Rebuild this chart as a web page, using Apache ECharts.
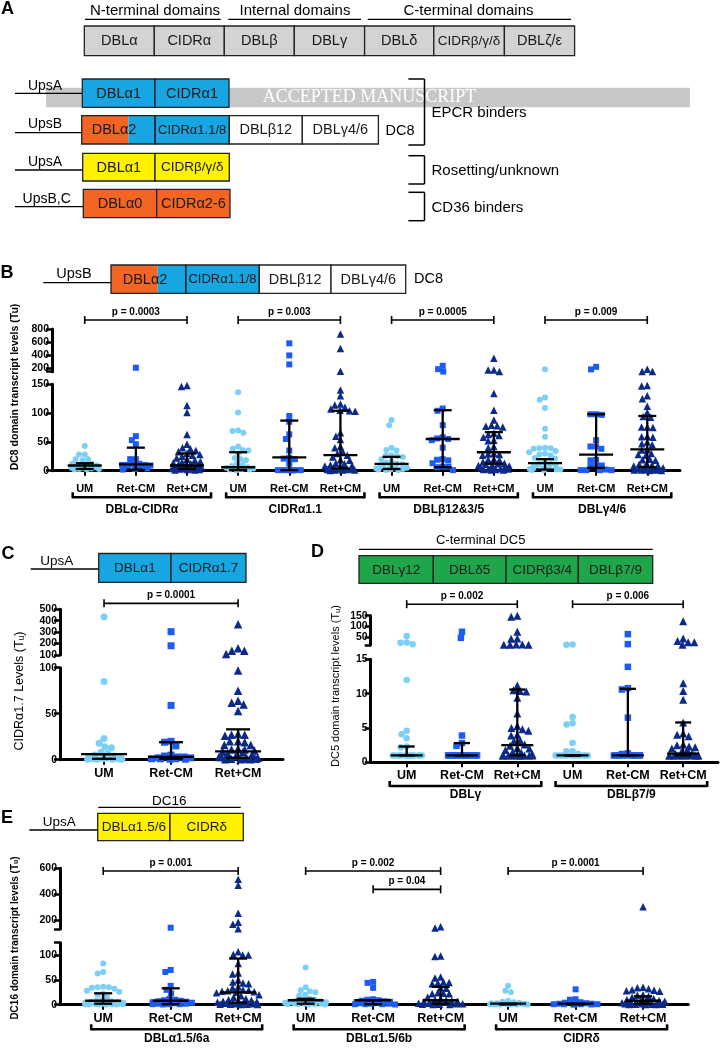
<!DOCTYPE html>
<html><head><meta charset="utf-8">
<script src="https://cdn.jsdelivr.net/npm/echarts@6/dist/echarts.min.js"></script>
<style>html,body{margin:0;padding:0;background:#fff}#c{width:720px;height:1050px}</style>
</head><body><div id="c"></div>
<script>
// ================= DATA =================
const treatments = ['UM', 'Ret-CM', 'Ret+CM'];

// Panel B (DC8) – values in Tu
const bGroups = ['DBLα-CIDRα', 'CIDRα1.1', 'DBLβ12&3/5', 'DBLγ4/6'];
const bUM_DBLa = [43, 28, 28, 20, 20, 18, 12, 12, 10, 10, 9, 8, 7, 6, 5, 5, 4, 3, 3, 2, 2];
const bRetNeg_DBLa = [210, 60, 53, 46, 20, 20, 12, 11, 10, 10, 10, 9, 8, 6, 4, 3, 2];
const bRetPos_DBLa = [148, 146, 113, 101, 63, 46, 40, 38, 35, 33, 30, 28, 27, 25, 22, 20, 18, 16, 15, 14, 12, 11, 10, 10, 9, 8, 8, 7, 6, 5, 5, 4, 4, 3, 3, 2, 2, 1, 1];
const bUM_CIDRa11 = [136, 101, 70, 69, 66, 42, 38, 36, 35, 30, 22, 20, 18, 12, 10, 8, 6, 5, 4, 3, 2, 2, 1, 1];
const bRetNeg_CIDRa11 = [582, 398, 261, 95, 85, 63, 55, 35, 22, 21, 20, 12, 1, 1, 1, 1, 1, 0.5];
const bRetPos_CIDRa11 = [724, 505, 155, 140, 130, 116, 114, 110, 107, 105, 104, 103, 66, 60, 54, 42, 40, 33, 30, 27, 24, 19, 18, 13, 12, 10, 9, 8, 6, 5, 4, 3, 3, 2, 2, 1, 1, 1, 0.5];
const bUM_DBLb12 = [88, 79, 40, 36, 35, 27, 26, 25, 24, 20, 16, 14, 12, 11, 10, 9, 8, 6, 5, 4, 3, 2, 2, 1, 1];
const bRetNeg_DBLb12 = [240, 189, 152, 108, 104, 79, 58, 56, 55, 53, 40, 20, 19, 18, 13, 7, 7, 6, 1];
const bRetPos_DBLb12 = [353, 174, 174, 152, 134, 105, 88, 79, 78, 77, 76, 65, 63, 61, 58, 53, 52, 42, 40, 30, 29, 28, 27, 20, 19, 18, 15, 13, 12, 11, 10, 9, 8, 7, 6, 5, 4, 3, 3, 2, 2, 1, 1];
const bUM_DBLg46 = [189, 127, 123, 109, 73, 59, 40, 39, 39, 38, 34, 32, 30, 28, 27, 22, 21, 14, 12, 12, 10, 8, 6, 5, 4, 3, 2, 2, 1, 1];
const bRetNeg_DBLg46 = [224, 185, 98, 98, 97, 53, 42, 42, 38, 19, 18, 9, 9, 8, 2, 1, 1, 1, 1];
const bRetPos_DBLg46 = [189, 152, 152, 148, 147, 130, 125, 112, 101, 94, 93, 76, 76, 75, 60, 59, 58, 50, 47, 45, 37, 36, 30, 28, 27, 20, 19, 18, 12, 11, 10, 9, 8, 6, 5, 4, 3, 2, 2, 1, 1, 1, 0.5, 0.5];
const bMedian = [9, 11, 9, 6, 23, 27, 12, 55, 32, 13, 28, 37];
const bQ1 = [3, 2, 3, 1, 1, 4, 3, 6, 12, 2, 5, 6];
const bQ3 = [13, 40, 30, 32, 87, 104, 24, 105, 67, 20, 98, 95];
const bPvals = ['p = 0.0003', 'p = 0.003', 'p = 0.0005', 'p = 0.009'];
const bPairs = [[0, 2], [3, 5], [6, 8], [9, 11]];

// Panel C (CIDRα1.7)
const cUM = [435, 85, 23, 18, 14, 13, 8, 7, 5, 4, 3, 2, 2, 1, 1, 1, 0.5, 0.5, 0.5, 0.5];
const cRetNeg = [304, 181, 59, 20, 19, 15, 5, 4, 3, 3, 2, 2, 1, 1, 1, 0.5, 0.5];
const cRetPos = [369, 159, 138, 138, 109, 97, 75, 64, 62, 60, 53, 28, 27, 27, 26, 20, 20, 19, 16, 16, 12, 11, 11, 10, 9, 8, 7, 6, 5, 4, 3, 3, 2, 2, 1, 1, 1, 0.5, 0.5, 0.5];
const cMedian = [6, 3, 9];
const cQ1 = [1, 1, 2];
const cQ3 = [6, 19, 33];
const cPvals = ['p = 0.0001'];
const cPairs = [[0, 2]];

// Panel D (DC5)
const dGroups = ['DBLγ', 'DBLβ7/9'];
const dUM_DBLg = [57, 27, 25, 19, 12, 4.6, 4.1, 3.5, 2.3, 2.2, 1, 1, 1, 1, 1, 1, 1, 1, 1, 1, 1, 1, 1, 1];
const dRetNeg_DBLg = [76, 48, 3.9, 2.8, 2.4, 1, 1, 1, 1, 1, 1, 1, 1, 1, 1, 1, 1, 1];
const dRetPos_DBLg = [150, 145, 76, 45, 44, 17, 17, 16, 16, 16, 11.2, 10.5, 10.4, 10.3, 9.4, 7.1, 5.3, 5.0, 4.8, 4.6, 4.0, 3.9, 3.2, 3.1, 2.6, 2.4, 2.1, 2.0, 1.8, 1.5, 1.4, 1.2, 1, 1, 1, 1, 1, 1, 1, 1, 1, 1];
const dUM_DBLb79 = [17, 16, 6.6, 5.7, 5.5, 2.8, 1.6, 1.6, 1.2, 1, 1, 1, 1, 1, 1, 1, 1, 1, 1, 1, 1];
const dRetNeg_DBLb79 = [65, 19, 13.9, 10.8, 10.6, 6.5, 1.3, 1.2, 1, 1, 1, 1, 1, 1, 1, 1, 1, 1];
const dRetPos_DBLb79 = [125, 45, 33, 28, 28, 16, 11.5, 10.4, 9.1, 5.8, 4.2, 4.0, 3.8, 2.6, 2.5, 2.3, 2.2, 2.0, 1.8, 1.5, 1.3, 1.2, 1, 1, 1, 1, 1, 1, 1, 1, 1, 1];
const dMedian = [1, 1, 2.5, 1, 1, 1.25];
const dQ1 = [1, 1, 1, 1, 1, 1];
const dQ3 = [2.3, 2.8, 10.6, 1, 10.7, 5.8];
const dPvals = ['p = 0.002', 'p = 0.006'];
const dPairs = [[0, 2], [3, 5]];

// Panel E (DC16)
const eGroups = ['DBLα1.5/6a', 'DBLα1.5/6b', 'CIDRδ'];
const eUM_a = [83, 66, 63, 36, 35, 35, 34, 32, 28, 26, 22, 20, 14, 10, 8, 7, 6, 5, 4, 4, 3, 3, 2, 2, 1, 1, 1, 1, 0.5, 0.5, 0.5, 0.5];
const eRetNeg_a = [143, 70, 66, 38, 30, 23, 12, 10, 9, 8, 7, 6, 5, 4, 3, 2, 2, 1, 1, 1, 0.5];
const eRetPos_a = [515, 469, 254, 185, 169, 135, 107, 101, 100, 100, 83, 64, 62, 50, 46, 44, 42, 36, 34, 30, 29, 28, 27, 26, 25, 24, 20, 18, 15, 12, 10, 9, 8, 7, 6, 5, 4, 3, 3, 2, 2, 1, 1, 1, 0.5, 0.5];
const eUM_b = [75, 35, 29, 27, 25, 20, 18, 12, 10, 9, 8, 7, 6, 5, 4, 3, 3, 2, 2, 1, 1, 1, 0.5, 0.5];
const eRetNeg_b = [46, 44, 34, 11, 10, 9, 8, 7, 6, 5, 4, 3, 2, 2, 1, 1, 1, 0.5];
const eRetPos_b = [150, 140, 98, 97, 56, 54, 46, 45, 44, 42, 34, 33, 24, 23, 22, 22, 15, 12, 10, 9, 8, 7, 6, 5, 4, 3, 3, 2, 2, 1, 1, 1, 0.5, 0.5];
const eUM_d = [38, 28, 25, 8, 6, 5, 4, 3, 3, 2, 2, 1, 1, 1, 1, 0.5, 0.5, 0.5, 0.5, 0.5];
const eRetNeg_d = [31, 11, 10, 5, 4, 3, 2, 2, 1, 1, 1, 1, 0.5, 0.5, 0.5];
const eRetPos_d = [305, 35, 34, 32, 30, 29, 28, 27, 20, 19, 17, 15, 12, 10, 9, 8, 7, 6, 5, 4, 4, 3, 3, 2, 2, 1, 1, 1, 0.5, 0.5, 0.5];
const eMedian = [8, 8, 25, 9, 9, 9, 2, 2, 8];
const eQ1 = [2, 1, 4, 2, 1, 2, 0.5, 0.5, 2];
const eQ3 = [23, 33, 93, 12, 9, 36, 2, 2, 17];
const ePvals = ['p = 0.001', 'p = 0.002', 'p = 0.04', 'p = 0.0001'];
const ePairs = [[0, 2], [3, 5], [4, 5], [6, 8]];

// ================= LAYOUT / STYLE =================
const FONT = '"Liberation Sans", Arial, sans-serif';
const COLORS = ['#7ccff5', '#1c5cf2', '#0b2a8a'];
const SYMBOLS = ['circle', 'rect', 'triangle'];

const panels = [
  { groups: [[bUM_DBLa, bRetNeg_DBLa, bRetPos_DBLa], [bUM_CIDRa11, bRetNeg_CIDRa11, bRetPos_CIDRa11],
             [bUM_DBLb12, bRetNeg_DBLb12, bRetPos_DBLb12], [bUM_DBLg46, bRetNeg_DBLg46, bRetPos_DBLg46]],
    med: bMedian, q1: bQ1, q3: bQ3, pLabels: bPvals, pPairs: bPairs, names: bGroups,
    left: 52, width: 628, xmin: -0.64, xmax: 11.64,
    low: { top: 384.3, bottom: 470.7, max: 150, ticks: [0, 50, 100, 150], labels: [0, 50, 100, 150] },
    up: { top: 329, bottom: 371.7, min: 150, max: 800, ticks: [150, 200, 400, 600, 800], labels: [200, 400, 600, 800] },
    pY: [937, 937, 937, 937], sym: 6, maxHalf: 16, medW: 17, capW: 9,
    xFont: 11, xMargin: 13, gB: 26.6, gN: 38.6, gL: -12, gR: 24 },
  { groups: [[cUM, cRetNeg, cRetPos]],
    med: cMedian, q1: cQ1, q3: cQ3, pLabels: cPvals, pPairs: cPairs, names: null,
    left: 60, width: 223, xmin: -0.657, xmax: 2.67,
    low: { top: 667.7, bottom: 759.7, max: 100, ticks: [0, 50, 100], labels: [0, 50, 100] },
    up: { top: 609.3, bottom: 655, min: 100, max: 500, ticks: [100, 200, 300, 400, 500], labels: [100, 200, 300, 400, 500] },
    pY: [552], sym: 7, maxHalf: 20, medW: 23, capW: 12,
    xFont: 12.5, xMargin: 7 },
  { groups: [[dUM_DBLg, dRetNeg_DBLg, dRetPos_DBLg], [dUM_DBLb79, dRetNeg_DBLb79, dRetPos_DBLb79]],
    med: dMedian, q1: dQ1, q3: dQ3, pLabels: dPvals, pPairs: dPairs, names: dGroups,
    left: 370.7, width: 347.3, xmin: -0.651, xmax: 5.63,
    low: { top: 659.3, bottom: 762.3, max: 15, ticks: [0, 5, 10, 15], labels: [0, 5, 10, 15] },
    up: { top: 615.7, bottom: 645, min: 15, max: 150, ticks: [15, 50, 100, 150], labels: [50, 100, 150] },
    pY: [203, 203], sym: 6.5, maxHalf: 17, medW: 16, capW: 8,
    xFont: 12.5, xMargin: 6.5, gB: 23.7, gN: 32.5, gL: -17, gR: 24 },
  { groups: [[eUM_a, eRetNeg_a, eRetPos_a], [eUM_b, eRetNeg_b, eRetPos_b], [eUM_d, eRetNeg_d, eRetPos_d]],
    med: eMedian, q1: eQ1, q3: eQ3, pLabels: ePvals, pPairs: ePairs, names: eGroups,
    left: 60, width: 628.3, xmin: -0.64, xmax: 8.67,
    low: { top: 942.7, bottom: 1004.7, max: 125, ticks: [0, 50, 100, 125], labels: [0, 50, 100] },
    up: { top: 868.3, bottom: 929, min: 133, max: 600, ticks: [133, 200, 400, 600], labels: [200, 400, 600] },
    pY: [579, 579, 438, 579], sym: 6, maxHalf: 22, medW: 18, capW: 9,
    xFont: 12.5, xMargin: 7.4, gB: 24.6, gN: 33.5, gL: -12, gR: 24 }
];

// deterministic beeswarm offsets (pixels)
function swarm(vals, pyFn, diam, maxHalf) {
  const idx = vals.map((v, i) => i).sort((a, b) => vals[b] - vals[a]);
  const placed = [], res = new Array(vals.length);
  let over = 0;
  for (const i of idx) {
    const y = pyFn(vals[i]);
    const iv = [];
    for (const p of placed) {
      const dy = Math.abs(p.y - y);
      if (dy < diam) { const h = Math.sqrt(diam * diam - dy * dy); iv.push([p.x - h, p.x + h]); }
    }
    const cands = [0];
    iv.forEach(([a, b]) => cands.push(a, b));
    cands.sort((a, b) => Math.abs(a) - Math.abs(b) || a - b);
    let best = null;
    for (const c of cands) {
      if (iv.every(([a, b]) => c <= a + 1e-6 || c >= b - 1e-6)) { best = c; break; }
    }
    if (best === null || Math.abs(best) > maxHalf) {
      over++;
      const f = (over * 0.6180339887) % 1;
      best = (2 * f - 1) * maxHalf;
    }
    placed.push({ x: best, y });
    res[i] = best;
  }
  return res;
}

const grids = [], xAxes = [], yAxes = [], series = [];
const axisLabelBase = { color: '#000', fontWeight: 'bold', fontFamily: FONT };

panels.forEach((P, pi) => {
  const gl = pi * 2, gu = pi * 2 + 1;
  const nCat = P.groups.length * 3;
  const cats = Array.from({ length: nCat }, (_, i) => i);
  grids.push({ left: P.left, top: P.low.top, width: P.width, height: P.low.bottom - P.low.top, containLabel: false, outerBoundsMode: 'none' });
  grids.push({ left: P.left, top: P.up.top, width: P.width, height: P.up.bottom - P.up.top, containLabel: false, outerBoundsMode: 'none' });
  xAxes.push({
    gridIndex: gl, type: 'value', min: P.xmin, max: P.xmax,
    axisLine: { show: true, onZero: false, lineStyle: { color: '#000', width: 3 } },
    axisTick: { show: true, customValues: cats, length: 5, lineStyle: { color: '#000', width: 2 } },
    axisLabel: Object.assign({ customValues: cats, fontSize: P.xFont, margin: P.xMargin, formatter: v => treatments[Math.round(v) % 3] }, axisLabelBase),
    splitLine: { show: false }
  });
  xAxes.push({ gridIndex: gu, type: 'value', min: P.xmin, max: P.xmax, show: false });
  yAxes.push({
    gridIndex: gl, type: 'value', min: 0, max: P.low.max,
    axisLine: { show: true, onZero: false, lineStyle: { color: '#000', width: 3 } },
    axisTick: { show: true, customValues: P.low.ticks, length: 6, lineStyle: { color: '#000', width: 2.5 } },
    axisLabel: Object.assign({ customValues: P.low.labels, fontSize: 10.5, margin: 3 }, axisLabelBase),
    splitLine: { show: false }
  });
  yAxes.push({
    gridIndex: gu, type: 'value', min: P.up.min, max: P.up.max,
    axisLine: { show: true, onZero: false, lineStyle: { color: '#000', width: 3 } },
    axisTick: { show: true, customValues: P.up.ticks, length: 6, lineStyle: { color: '#000', width: 2.5 } },
    axisLabel: Object.assign({ customValues: P.up.labels, fontSize: 10.5, margin: 3 }, axisLabelBase),
    splitLine: { show: false }
  });

  const pyFn = v => v <= P.low.max
    ? P.low.bottom - v / P.low.max * (P.low.bottom - P.low.top)
    : P.up.bottom - (v - P.up.min) / (P.up.max - P.up.min) * (P.up.bottom - P.up.top);
  const ppu = P.width / (P.xmax - P.xmin);

  for (let t = 0; t < 3; t++) {
    const lowData = [], upData = [];
    P.groups.forEach((g, gi) => {
      const vals = g[t];
      const offs = swarm(vals, pyFn, P.sym * 0.95, P.maxHalf);
      vals.forEach((v, k) => {
        const pt = [gi * 3 + t + offs[k] / ppu, v];
        (v <= P.low.max ? lowData : upData).push(pt);
      });
    });
    const common = {
      type: 'scatter', symbol: SYMBOLS[t], symbolSize: t === 2 ? P.sym + 1.5 : P.sym,
      itemStyle: { color: COLORS[t], opacity: 1 }, silent: true, clip: false, z: 3, animation: false
    };
    series.push(Object.assign({ xAxisIndex: gl, yAxisIndex: gl, data: lowData }, common));
    series.push(Object.assign({ xAxisIndex: gu, yAxisIndex: gu, data: upData }, common));
  }

  // median + IQR bars
  series.push({
    type: 'custom', xAxisIndex: gl, yAxisIndex: gl, silent: true, clip: false, z: 5, animation: false,
    data: P.med.map((m, i) => [i, P.q1[i], m, P.q3[i]]),
    renderItem: (params, api) => {
      const x = api.value(0);
      const p1 = api.coord([x, api.value(1)]), pm = api.coord([x, api.value(2)]), p3 = api.coord([x, api.value(3)]);
      const st = { stroke: '#000', lineWidth: 2.3 };
      return { type: 'group', children: [
        { type: 'line', shape: { x1: pm[0], y1: p1[1], x2: pm[0], y2: p3[1] }, style: st },
        { type: 'line', shape: { x1: pm[0] - P.capW, y1: p1[1], x2: pm[0] + P.capW, y2: p1[1] }, style: st },
        { type: 'line', shape: { x1: pm[0] - P.capW, y1: p3[1], x2: pm[0] + P.capW, y2: p3[1] }, style: st },
        { type: 'line', shape: { x1: pm[0] - P.medW, y1: pm[1], x2: pm[0] + P.medW, y2: pm[1] }, style: st }
      ] };
    }
  });

  // p-value brackets
  series.push({
    type: 'custom', xAxisIndex: gu, yAxisIndex: gu, silent: true, clip: false, z: 5, animation: false,
    data: P.pPairs.map((pr, i) => [pr[0], pr[1], P.pY[i], i]),
    renderItem: (params, api) => {
      const a = api.coord([api.value(0), api.value(2)]), b = api.coord([api.value(1), api.value(2)]);
      const st = { stroke: '#000', lineWidth: 1.6 };
      return { type: 'group', children: [
        { type: 'line', shape: { x1: a[0], y1: a[1], x2: b[0], y2: b[1] }, style: st },
        { type: 'line', shape: { x1: a[0], y1: a[1] - 4, x2: a[0], y2: a[1] + 4 }, style: st },
        { type: 'line', shape: { x1: b[0], y1: b[1] - 4, x2: b[0], y2: b[1] + 4 }, style: st },
        { type: 'text', x: (a[0] + b[0]) / 2, y: a[1] - 3,
          style: { text: P.pLabels[api.value(3)], font: 'bold 10px ' + FONT, fill: '#000', textFill: '#000',
                   align: 'center', textAlign: 'center', verticalAlign: 'bottom', textVerticalAlign: 'bottom' } }
      ] };
    }
  });

  // group brackets + names under x axis
  if (P.names) {
    series.push({
      type: 'custom', xAxisIndex: gl, yAxisIndex: gl, silent: true, clip: false, z: 5, animation: false,
      data: P.names.map((n, g) => [g * 3, g * 3 + 2, 0, g]),
      renderItem: (params, api) => {
        const a = api.coord([api.value(0), 0]), b = api.coord([api.value(1), 0]);
        const y = a[1] + P.gB, x1 = a[0] + P.gL, x2 = b[0] + P.gR;
        const st = { stroke: '#000', lineWidth: 2.6 };
        return { type: 'group', children: [
          { type: 'line', shape: { x1, y1: y, x2, y2: y }, style: st },
          { type: 'line', shape: { x1, y1: y - 5, x2: x1, y2: y + 1 }, style: st },
          { type: 'line', shape: { x1: x2, y1: y - 5, x2: x2, y2: y + 1 }, style: st },
          { type: 'text', x: (x1 + x2) / 2, y: a[1] + P.gN,
            style: { text: P.names[api.value(3)], font: 'bold 12px ' + FONT, fill: '#000', textFill: '#000',
                     align: 'center', textAlign: 'center', verticalAlign: 'middle', textVerticalAlign: 'middle' } }
        ] };
      }
    });
  }
});

// ================= DIAGRAMS (graphic) =================
const G = [];
function T(x, y, text, size, o) {
  o = o || {};
  const al = o.align || 'center';
  const st = { text, font: (o.bold ? 'bold ' : '') + size + 'px ' + (o.family || FONT), fill: o.fill || '#000', textFill: o.fill || '#000',
               align: al, textAlign: al, verticalAlign: 'middle', textVerticalAlign: 'middle' };
  if (o.rich) st.rich = o.rich;
  return { type: 'text', x, y, rotation: o.rot || 0, silent: true, z: o.z || 20, style: st };
}
function R(x1, y1, x2, y2, fill, stroke, z) {
  return { type: 'rect', silent: true, z: z || 12, shape: { x: x1, y: y1, width: x2 - x1, height: y2 - y1 },
           style: { fill: fill, stroke: stroke || 'none', lineWidth: 1.3 } };
}
function L(x1, y1, x2, y2, w) {
  return { type: 'line', silent: true, z: 15, shape: { x1, y1, x2, y2 }, style: { stroke: '#000', lineWidth: w || 1.3 } };
}
function boxes(y1, y2, edges, fills, labels, size) {
  for (let i = 0; i < labels.length; i++) {
    const s = Array.isArray(size) ? size[i] : size;
    G.push(R(edges[i], y1, edges[i + 1], y2, fills[i], '#222'));
    G.push(T((edges[i] + edges[i + 1]) / 2, (y1 + y2) / 2 + 0.5, labels[i], s, { fill: '#1a1a1a' }));
  }
}
const BLUE = '#17a6e2', ORANGE = '#f26522', YELLOW = '#fff200', GREEN = '#1fa64b', GREY = '#d1d3d4';

// --- A ---
G.push(R(46, 87.7, 690, 107.3, '#c8c8c8', 'none', 5));
G.push(T(369.5, 97.5, 'ACCEPTED MANUSCRIPT', 18, { family: '"Liberation Serif", "DejaVu Serif", serif', fill: '#ffffff', z: 6 }));
G.push(T(7.5, 9.5, 'A', 18, { bold: true }));
G.push(T(155, 10.5, 'N-terminal domains', 15), L(85, 19.3, 220.7, 19.3));
G.push(T(295, 10.5, 'Internal domains', 15), L(228.3, 19.3, 361, 19.3));
G.push(T(468.5, 10.5, 'C-terminal domains', 15), L(367.8, 19.3, 571, 19.3));
boxes(26, 55.7, [84.3, 154.3, 224.3, 294.3, 364.6, 433.8, 504.4, 574.6], [GREY, GREY, GREY, GREY, GREY, GREY, GREY],
      ['DBLα', 'CIDRα', 'DBLβ', 'DBLγ', 'DBLδ', 'CIDRβ/γ/δ', 'DBLζ/ε'], [14.5, 14.5, 14.5, 14.5, 14.5, 13.5, 14.5]);
// row 1
G.push(T(45, 86, 'UpsA', 14), L(15, 93.3, 82.3, 93.3));
boxes(79, 107.3, [82.3, 155, 229], [BLUE, BLUE], ['DBLα1', 'CIDRα1'], 14.5);
// row 2
G.push(T(45, 124.3, 'UpsB', 14), L(15, 132.7, 81.7, 132.7));
G.push(R(81.7, 115.7, 128.3, 144, ORANGE), R(128.3, 115.7, 155, 144, BLUE), R(81.7, 115.7, 155, 144, 'none', '#222', 13));
G.push(T(114, 130.3, 'DBLα2', 14.5, { fill: '#1a1a1a' }));
boxes(115.7, 144, [155, 229.3, 302.3, 378.4], [BLUE, '#fff', '#fff'], ['CIDRα1.1/8', 'DBLβ12', 'DBLγ4/6'], [13, 14.5, 14.5]);
G.push(T(400, 130.7, 'DC8', 14.5));
G.push(L(424.5, 79, 424.5, 145, 1.5), L(408.4, 79, 424.5, 79, 1.5), L(408.4, 145, 424.5, 145, 1.5));
G.push(T(431.5, 113.3, 'EPCR binders', 15, { align: 'left' }));
// row 3
G.push(T(45, 161.7, 'UpsA', 14), L(15, 170, 82.7, 170));
boxes(153.3, 181, [82.7, 155, 229.3], [YELLOW, YELLOW], ['DBLα1', 'CIDRβ/γ/δ'], [14.5, 13.5]);
G.push(L(424.5, 155.7, 424.5, 184, 1.5), L(408.4, 155.7, 424.5, 155.7, 1.5), L(408.4, 184, 424.5, 184, 1.5));
G.push(T(431.5, 171, 'Rosetting/unknown', 15, { align: 'left' }));
// row 4
G.push(T(46.7, 199.3, 'UpsB,C', 14), L(15, 206.7, 83.3, 206.7));
boxes(189.3, 217.7, [83.3, 156.7, 230], [ORANGE, ORANGE], ['DBLα0', 'CIDRα2-6'], 14.5);
G.push(L(424.5, 192.3, 424.5, 220.7, 1.5), L(408.4, 192.3, 424.5, 192.3, 1.5), L(408.4, 220.7, 424.5, 220.7, 1.5));
G.push(T(431.5, 207.7, 'CD36 binders', 15, { align: 'left' }));

// --- B header ---
G.push(T(7, 273, 'B', 18, { bold: true }));
G.push(T(74, 273.5, 'UpsB', 14.5), L(43.3, 282.7, 111, 282.7));
G.push(R(111, 265, 157.7, 293.3, ORANGE), R(157.7, 265, 185.7, 293.3, BLUE), R(111, 265, 185.7, 293.3, 'none', '#222', 13));
G.push(T(145, 279.5, 'DBLα2', 14.5, { fill: '#1a1a1a' }));
boxes(265, 293.3, [185.7, 259.3, 331, 405.7], [BLUE, '#fff', '#fff'], ['CIDRα1.1/8', 'DBLβ12', 'DBLγ4/6'], [13, 14.5, 14.5]);
G.push(T(428.5, 279.3, 'DC8', 14.5));
G.push(T(15, 387, 'DC8 domain transcript levels (Tu)', 10.5, { bold: true, rot: Math.PI / 2 }));

// --- C header ---
G.push(T(8, 554, 'C', 18, { bold: true }));
G.push(T(56.7, 561.5, 'UpsA', 13.5), L(30.7, 569, 98.7, 569));
boxes(553.5, 582.3, [98.7, 171, 246], [BLUE, BLUE], ['DBLα1', 'CIDRα1.7'], 13.5);
G.push(T(20, 691, '{a|CIDRα1.7 Levels (T}{s|u}{a|)}', 12.5, { rot: Math.PI / 2,
  rich: { a: { font: '12.5px ' + FONT, fill: '#000' }, s: { font: '8.5px ' + FONT, fill: '#000', verticalAlign: 'bottom' } } }));

// --- D header ---
G.push(T(317.5, 552.5, 'D', 18, { bold: true }));
G.push(T(480.7, 540, 'C-terminal DC5', 13), L(359, 549.3, 652.7, 549.3));
boxes(555.7, 583.3, [359, 433.3, 506, 578.3, 652.7], [GREEN, GREEN, GREEN, GREEN], ['DBLγ12', 'DBLδ5', 'CIDRβ3/4', 'DBLβ7/9'], 13.5);
G.push(T(336, 686, '{a|DC5 domain transcript levels (T}{s|u}{a|)}', 11, { rot: Math.PI / 2,
  rich: { a: { font: '11px ' + FONT, fill: '#000' }, s: { font: '7.5px ' + FONT, fill: '#000', verticalAlign: 'bottom' } } }));

// --- E header ---
G.push(T(7, 818, 'E', 18, { bold: true }));
G.push(T(169.3, 801.5, 'DC16', 13.5), L(98.3, 807.3, 240.7, 807.3));
G.push(T(59.3, 822.5, 'UpsA', 13.5), L(29.3, 830, 97.7, 830));
boxes(813.3, 840.7, [97.7, 170, 243.3], [YELLOW, YELLOW], ['DBLα1.5/6', 'CIDRδ'], 13.5);
G.push(T(15, 938, '{a|DC16 domain transcript levels (T}{s|u}{a|)}', 10, { rot: Math.PI / 2,
  rich: { a: { font: 'bold 10px ' + FONT, fill: '#000' }, s: { font: 'bold 7px ' + FONT, fill: '#000', verticalAlign: 'bottom' } } }));

// ================= CHART =================
const chart = echarts.init(document.getElementById('c'), null, { renderer: 'canvas', width: 720, height: 1050 });
chart.setOption({
  animation: false,
  backgroundColor: '#ffffff',
  textStyle: { fontFamily: FONT },
  grid: grids, xAxis: xAxes, yAxis: yAxes, series: series,
  graphic: { elements: G }
});
</script></body></html>
